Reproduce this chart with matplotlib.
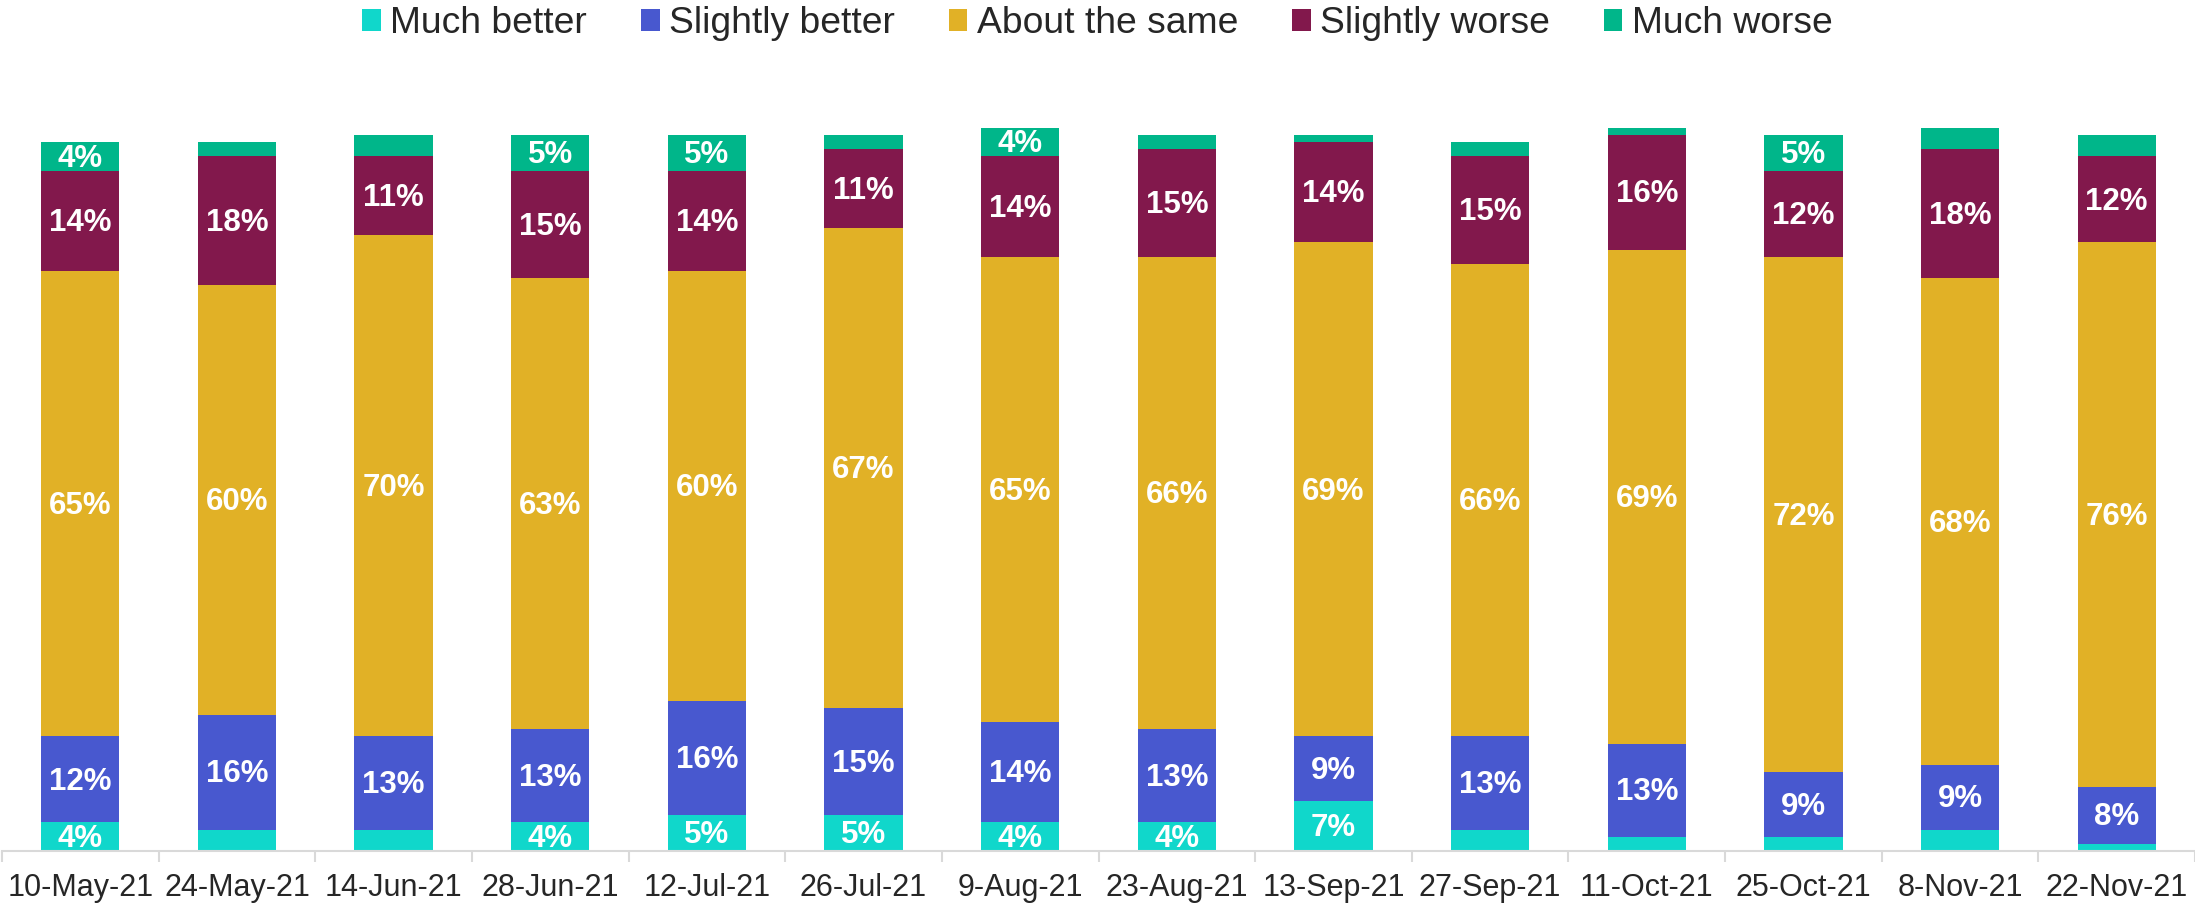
import matplotlib
matplotlib.use("Agg")
import matplotlib.pyplot as plt
import numpy as np

plt.rcParams["font.family"] = ["Liberation Sans", "DejaVu Sans"]

dates = ["10-May-21", "24-May-21", "14-Jun-21", "28-Jun-21", "12-Jul-21",
         "26-Jul-21", "9-Aug-21", "23-Aug-21", "13-Sep-21", "27-Sep-21",
         "11-Oct-21", "25-Oct-21", "8-Nov-21", "22-Nov-21"]

much_better     = [4, 3, 3, 4, 5, 5, 4, 4, 7, 3, 2, 2, 3, 1]
slightly_better = [12, 16, 13, 13, 16, 15, 14, 13, 9, 13, 13, 9, 9, 8]
about_same      = [65, 60, 70, 63, 60, 67, 65, 66, 69, 66, 69, 72, 68, 76]
slightly_worse  = [14, 18, 11, 15, 14, 11, 14, 15, 14, 15, 16, 12, 18, 12]
much_worse      = [4, 2, 3, 5, 5, 2, 4, 2, 1, 2, 1, 5, 3, 3]

series_names = ["Much better", "Slightly better", "About the same",
                "Slightly worse", "Much worse"]
series_values = [much_better, slightly_better, about_same,
                 slightly_worse, much_worse]
colors = ["#10D7CB", "#4858CF", "#E1B126", "#82184C", "#00B68A"]

W, H = 2195, 909
fig = plt.figure(figsize=(W / 100, H / 100), dpi=100)

px_per_pct = 7.16
ymax = 105
base_px = 851
ax_h = ymax * px_per_pct
ax = fig.add_axes([2 / W, 1 - base_px / H, 1 - 2 / W, ax_h / H])

x = np.arange(len(dates))
bottom = np.zeros(len(dates))
for name, vals, col in zip(series_names, series_values, colors):
    vals = np.array(vals, dtype=float)
    ax.bar(x, vals, width=0.5, bottom=bottom, color=col, label=name,
           edgecolor="none", zorder=2)
    for xi, b, v in zip(x, bottom, vals):
        if v >= 4:
            ax.text(xi, b + v / 2 - 0.3, f"{int(v)}%", ha="center", va="center",
                    color="white", fontsize=22.5, fontweight="bold", zorder=3)
    bottom += vals

ax.set_xlim(-0.5, len(dates) - 0.5)
ax.set_ylim(0, ymax)
ax.set_yticks([])
for s in ["top", "right", "left"]:
    ax.spines[s].set_visible(False)
ax.spines["bottom"].set_color("#d9d9d9")
ax.spines["bottom"].set_linewidth(1.5)

ax.set_xticks(x)
ax.set_xticklabels(dates, fontsize=22, color="#262626")
ax.tick_params(axis="x", which="major", length=0, pad=16)
ax.set_xticks(np.arange(len(dates) + 1) - 0.5, minor=True)
ax.tick_params(axis="x", which="minor", length=8, width=1.5, color="#d9d9d9")

fig.legend(loc="upper center", bbox_to_anchor=(0.5, 1.03), ncol=5,
           frameon=False, fontsize=26.8, handlelength=0.5, handleheight=0.5,
           handletextpad=0.25, columnspacing=1.45, labelcolor="#262626")

fig.savefig("out.png", dpi=100)
